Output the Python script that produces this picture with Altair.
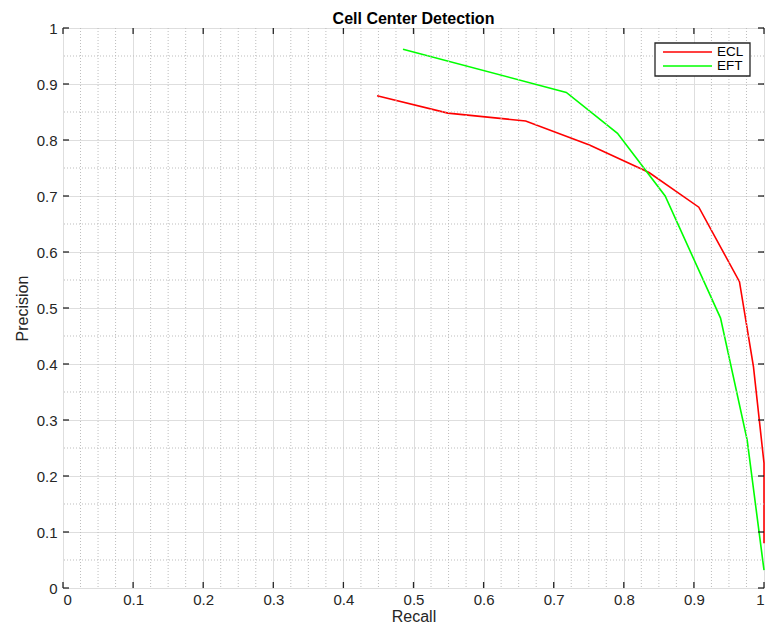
import altair as alt
import pandas as pd

# ---- data ----
ecl_recall = [0.448, 0.549, 0.660, 0.751, 0.836, 0.907, 0.965, 0.985, 1.0, 1.0]
ecl_precision = [0.879, 0.848, 0.834, 0.791, 0.742, 0.680, 0.547, 0.395, 0.223, 0.080]
eft_recall = [0.485, 0.718, 0.791, 0.859, 0.938, 0.976, 1.0]
eft_precision = [0.962, 0.885, 0.812, 0.700, 0.482, 0.264, 0.032]

methods = ["ECL", "EFT"]
colors = ["#ff0000", "#00ff00"]

major_ticks = [round(i * 0.1, 1) for i in range(11)]
x_minor = [round(i * 0.025, 3) for i in range(1, 40) if i % 4 != 0]
y_minor = [round(0.05 + i * 0.1, 2) for i in range(10)]

W, H = 701, 560

rows = []
for i, (r, p) in enumerate(zip(ecl_recall, ecl_precision)):
    rows.append({"Recall": r, "Precision": p, "Method": "ECL", "order": i})
for i, (r, p) in enumerate(zip(eft_recall, eft_precision)):
    rows.append({"Recall": r, "Precision": p, "Method": "EFT", "order": i})
df = pd.DataFrame(rows)

xscale = alt.Scale(domain=[0, 1], nice=False, zero=False)
yscale = alt.Scale(domain=[0, 1], nice=False, zero=False)

xminor_df = pd.DataFrame({"Recall": x_minor})
yminor_df = pd.DataFrame({"Precision": y_minor})
major_df = pd.DataFrame({"Recall": major_ticks, "Precision": major_ticks})

txt = "#262626"
xaxis = alt.Axis(
    values=major_ticks, format="~g", title="Recall", grid=True,
    gridColor="#dedede", gridWidth=1, ticks=False, domain=False,
    labelFontSize=15, labelPadding=4, titleFontSize=16, titlePadding=1,
    labelColor=txt, titleColor=txt, titleFontWeight="normal",
)
yaxis = alt.Axis(
    values=major_ticks, format="~g", title="Precision", grid=True,
    gridColor="#dedede", gridWidth=1, ticks=False, domain=False,
    labelFontSize=15, labelPadding=6, titleFontSize=16, titlePadding=6,
    labelColor=txt, titleColor=txt, titleFontWeight="normal",
)

lines = alt.Chart(df).mark_line(strokeWidth=1.6, clip=False).encode(
    x=alt.X("Recall:Q", scale=xscale, axis=xaxis),
    y=alt.Y("Precision:Q", scale=yscale, axis=yaxis),
    color=alt.Color("Method:N", scale=alt.Scale(domain=methods, range=colors), legend=None),
    order="order:Q",
)

grid_color = "#bdbdbd"
minor_x = alt.Chart(xminor_df).mark_rule(color=grid_color, strokeDash=[1, 2], strokeWidth=1).encode(
    x=alt.X("Recall:Q", scale=xscale)
)
minor_y = alt.Chart(yminor_df).mark_rule(color=grid_color, strokeDash=[1, 2], strokeWidth=1).encode(
    y=alt.Y("Precision:Q", scale=yscale)
)

tk = dict(color=txt, strokeWidth=1.3)
tick_bottom = alt.Chart(major_df).mark_rule(**tk).encode(
    x=alt.X("Recall:Q", scale=xscale), y=alt.value(H), y2=alt.value(H - 6)
)
tick_top = alt.Chart(major_df).mark_rule(**tk).encode(
    x=alt.X("Recall:Q", scale=xscale), y=alt.value(0), y2=alt.value(6)
)
tick_left = alt.Chart(major_df).mark_rule(**tk).encode(
    y=alt.Y("Precision:Q", scale=yscale), x=alt.value(0), x2=alt.value(6)
)
tick_right = alt.Chart(major_df).mark_rule(**tk).encode(
    y=alt.Y("Precision:Q", scale=yscale), x=alt.value(W), x2=alt.value(W - 6)
)

# ---- legend box (drawn manually, MATLAB style) ----
LR = W - 14
LL = LR - 95
one = pd.DataFrame({"k": [0]})
leg_box = alt.Chart(one).mark_rect(fill="white", stroke=txt, strokeWidth=1.3).encode(
    x=alt.value(LL), x2=alt.value(LR), y=alt.value(15), y2=alt.value(48)
)
leg_layers = []
for i, (m, c) in enumerate(zip(methods, colors)):
    ypos = 24 + 14 * i
    d = pd.DataFrame({"Method": [m]})
    leg_layers.append(
        alt.Chart(d).mark_rule(color=c, strokeWidth=1.6).encode(
            x=alt.value(LL + 8), x2=alt.value(LL + 57), y=alt.value(ypos)
        )
    )
    leg_layers.append(
        alt.Chart(d).mark_text(align="left", baseline="middle", fontSize=13.5, color="#000000").encode(
            x=alt.value(LL + 62), y=alt.value(ypos), text="Method:N"
        )
    )

chart = alt.layer(
    lines, minor_x, minor_y, tick_bottom, tick_top, tick_left, tick_right, leg_box, *leg_layers
).properties(
    width=W,
    height=H,
    title=alt.Title("Cell Center Detection", fontSize=16, fontWeight="bold", offset=0, dy=6,
                    color="#000000"),
    padding={"left": 55, "top": 20, "right": 4, "bottom": 36},
    autosize=alt.AutoSizeParams(type="none"),
).configure_view(stroke=txt, strokeWidth=1.3).configure(
    font="Liberation Sans", background="white"
)

chart.save("out.html", embed_options={"renderer": "svg", "actions": False})
